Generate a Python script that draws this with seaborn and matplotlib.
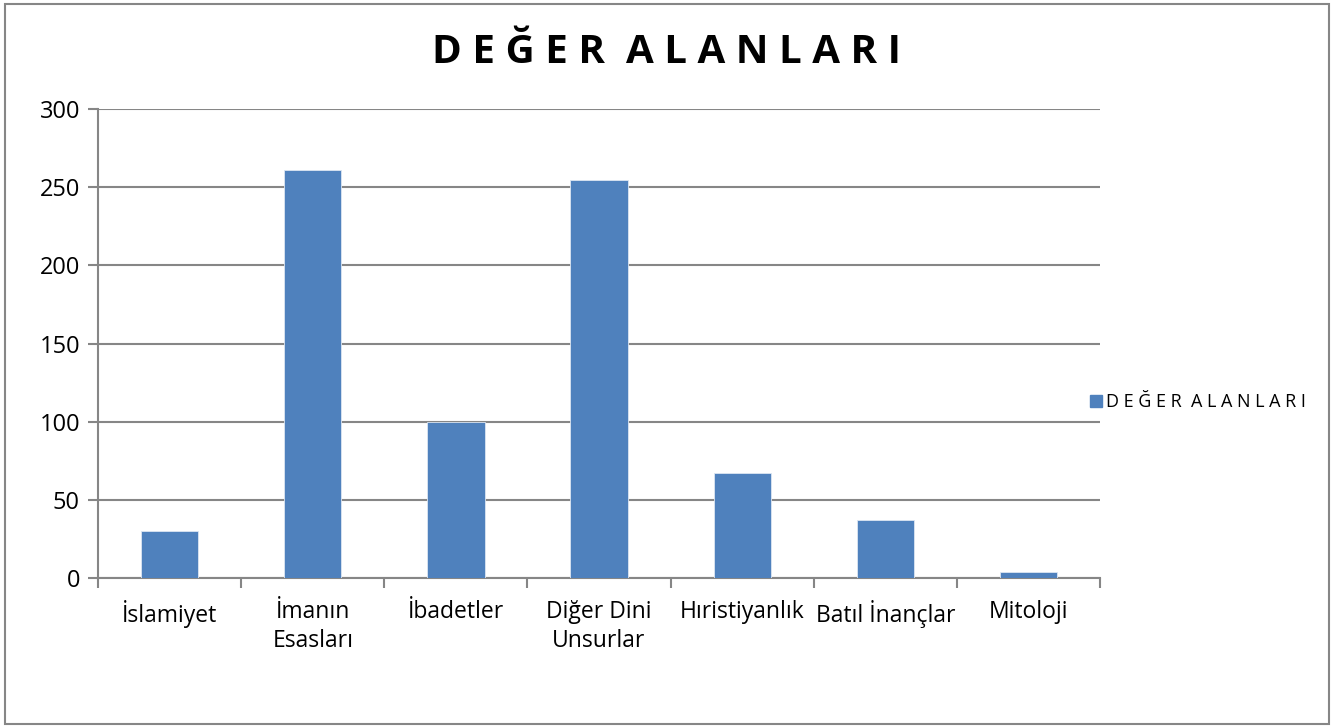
import matplotlib
matplotlib.use("Agg")
import matplotlib.pyplot as plt
import seaborn as sns
import pandas as pd
from matplotlib.patches import Rectangle
from matplotlib.lines import Line2D

# Kategoriler ve değerler
categories = ["İslamiyet", "İmanın\nEsasları", "İbadetler", "Diğer Dini\nUnsurlar",
              "Hıristiyanlık", "Batıl İnançlar", "Mitoloji"]
values = [30, 261, 100, 255, 67, 37, 4]
y_ticks = [0, 50, 100, 150, 200, 250, 300]
series_name = "D E Ğ E R  A L A N L A R I"

df = pd.DataFrame({"Kategori": categories, "Deger": values})

sns.set_style("white")
plt.rcParams["font.family"] = ["Open Sans", "DejaVu Sans"]

grey = "#868686"
blue = "#4F81BD"

fig = plt.figure(figsize=(13.34, 7.28), dpi=100)
ax = fig.add_axes([0.0735, 0.206, 0.7511, 0.644])

sns.barplot(data=df, x="Kategori", y="Deger", color=blue, width=0.4,
            saturation=1, ax=ax, edgecolor="#DCE6F2", linewidth=0.6, zorder=3)

ax.set_xlim(-0.5, len(categories) - 0.5)
ax.set_ylim(0, 300)
ax.set_yticks(y_ticks)
ax.yaxis.grid(True, color=grey, linewidth=1.5, zorder=0)
ax.set_axisbelow(True)

for side in ["top", "right"]:
    ax.spines[side].set_visible(False)
for side in ["left", "bottom"]:
    ax.spines[side].set_color(grey)
    ax.spines[side].set_linewidth(1.5)

ax.set_xticks(range(len(categories)))
ax.set_xticklabels(categories, fontsize=16.5, color="black", linespacing=1.25)
ax.tick_params(axis="x", which="major", bottom=True, length=0, pad=16)
ax.set_xticks([i - 0.5 for i in range(len(categories) + 1)], minor=True)
ax.tick_params(axis="x", which="minor", bottom=True, length=7, width=1.5,
               color=grey, direction="out")
ax.tick_params(axis="y", left=True, length=7, width=1.5, color=grey, direction="out",
               labelsize=17, labelcolor="black", pad=6)
ax.set_xlabel("")
ax.set_ylabel("")

fig.text(0.5, 0.928, series_name, ha="center", va="center",
         fontsize=29, fontweight="bold", color="black")

handle = Line2D([], [], marker="s", color="none", markerfacecolor=blue,
                markeredgecolor=blue, markersize=9)
fig.legend([handle], [series_name], loc="center left",
           bbox_to_anchor=(0.805, 0.448), frameon=False, fontsize=13,
           handlelength=0.6, handletextpad=0.3, labelcolor="black")

fig.patches.append(Rectangle((0.004, 0.006), 0.992, 0.988, transform=fig.transFigure,
                             fill=False, edgecolor=grey, linewidth=1.5))

fig.savefig("out.png", dpi=100)
